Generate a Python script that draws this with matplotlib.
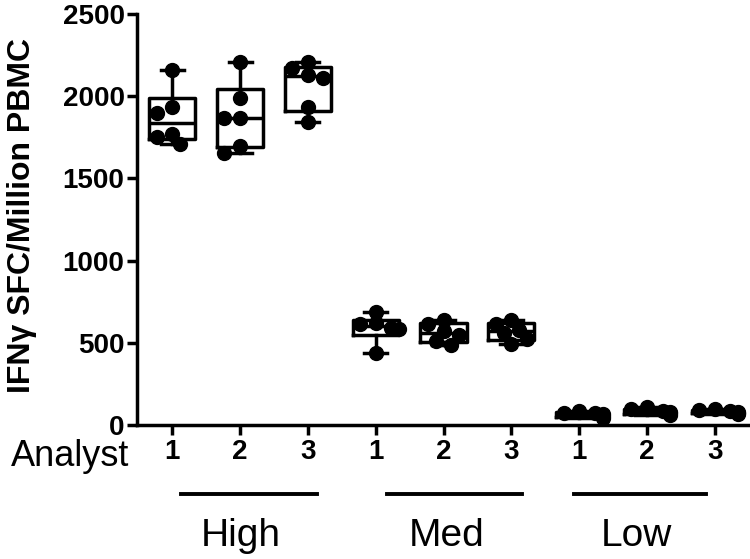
import numpy as np
import matplotlib
matplotlib.use("Agg")
import matplotlib.pyplot as plt
from matplotlib.lines import Line2D

plt.rcParams["font.family"] = ["Liberation Sans", "DejaVu Sans"]

# six replicate wells per analyst and antigen level (SFC / million PBMC)
levels = ["High", "Med", "Low"]
analysts = ["1", "2", "3"]
high = [
    [1710, 1750, 1770, 1900, 1935, 2160],
    [1655, 1700, 1865, 1870, 1990, 2205],
    [1845, 1935, 2110, 2130, 2172, 2205],
]
med = [
    [440, 583, 590, 614, 621, 690],
    [485, 512, 550, 570, 613, 640],
    [490, 526, 560, 580, 613, 640],
]
low = [
    [40, 55, 65, 70, 75, 85],
    [60, 70, 80, 85, 95, 110],
    [65, 72, 80, 85, 90, 100],
]
yticks = [0, 500, 1000, 1500, 2000, 2500]

groups = high + med + low
pos = np.arange(1, len(groups) + 1)

fig = plt.figure(figsize=(7.5, 5.59), dpi=100)
ax = fig.add_axes([137 / 750, 1 - 425 / 559, 1 - 137 / 750, 411 / 559])
ax.set_xlim(0.48, 9.52)
ax.set_ylim(0, 2500)

# box statistics with the (n+1)p quartile rule, whiskers min to max
stats = []
for g in groups:
    q1, med_, q3 = np.percentile(g, [25, 50, 75], method="weibull")
    stats.append(dict(med=med_, q1=q1, q3=q3, whislo=min(g), whishi=max(g),
                      fliers=[]))
lp = dict(color="black", linewidth=2.5)
ax.bxp(stats, positions=pos, widths=0.68, capwidths=0.34, showfliers=False,
       boxprops=lp, medianprops=lp, whiskerprops=lp, capprops=lp,
       patch_artist=False, manage_ticks=False)

# simple swarm so the dots sit side by side like the original
px_x = 750 * (1 - 137 / 750) / (9.52 - 0.48)
px_y = 411 / 2500
diam = 13
for p, g in zip(pos, groups):
    placed = []
    for v in sorted(g, reverse=True):
        for k in [0, -1, 1, -2, 2, -3, 3]:
            dx = k * diam * 0.6
            ok = all(np.hypot(dx - qx, (v - qv) * px_y) >= diam * 0.85
                     for qx, qv in placed)
            if ok:
                break
        placed.append((dx, v))
        ax.plot(p + dx / px_x, v, "o", color="black", markersize=10,
                zorder=4, clip_on=False)

for s in ["top", "right"]:
    ax.spines[s].set_visible(False)
for s in ["left", "bottom"]:
    ax.spines[s].set_linewidth(2.5)

ax.set_yticks(yticks)
ax.set_yticklabels([str(t) for t in yticks], fontsize=20, fontweight="bold")
ax.set_xticks(pos)
ax.set_xticklabels(analysts * 3, fontsize=20, fontweight="bold")
ax.tick_params(axis="both", length=7, width=2.5, direction="out")
ax.tick_params(axis="x", pad=3)
ax.tick_params(axis="y", pad=2)

ax.set_ylabel("IFNγ SFC/Million PBMC", fontsize=23, fontweight="bold")
ax.yaxis.set_label_coords(-0.163, 0.51)

ax.text((70 - 137) / 613, -0.035, "Analyst", transform=ax.transAxes,
        ha="center", va="top", fontsize=26)

tr = ax.get_xaxis_transform()
line_spans = [(1.13, 3.14), (4.16, 6.16), (6.93, 8.87)]
label_x = [2.01, 5.04, 7.84]
for (a, b), lx, name in zip(line_spans, label_x, levels):
    ax.add_line(Line2D([a, b], [-0.168, -0.168], transform=tr, color="black",
                       linewidth=2.8, clip_on=False))
    ax.text(lx, -0.27, name, transform=tr, ha="center", va="center",
            fontsize=28)

fig.savefig("out.png", dpi=100)
